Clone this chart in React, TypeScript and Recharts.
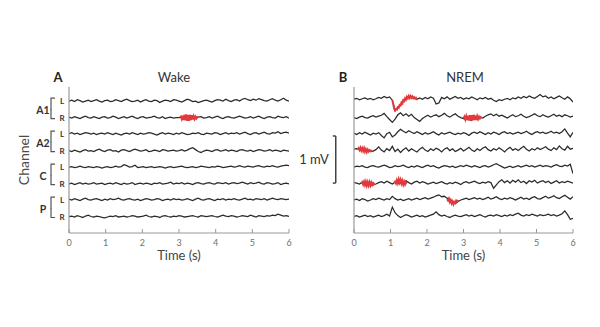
import React from 'react';
import { LineChart, Line, XAxis, YAxis, ReferenceLine } from 'recharts';

// sampled traces, values in units of 0.01 mV, one sample every 0.075 s (0..6 s)
const sampleStep = 0.075;
const spindleStep = 0.025;
const timeTicks = [0, 1, 2, 3, 4, 5, 6];
const channelGroups = ['A1', 'A2', 'C', 'P'];
const channelSides = ['L', 'R'];
// baseline of each channel, mV below the top of the plot
const channelOffsets = [0.3, 0.65, 1.0, 1.35, 1.7, 2.05, 2.4, 2.75];

const wakeA1L = [
  0, 2, -1, 3, 1, -2, 0, 2, -1, 1,
  3, 0, -2, 1, 2, -1, 0, 3, 1, -1,
  2, 4, 1, -1, 0, 2, -2, 1, 3, 0,
  -1, 2, 1, -3, 0, 2, 1, -1, 3, 2,
  0, -2, 1, 4, 2, -1, 0, -3, -1, 1,
  2, 0, -2, 1, 3, 2, 0, 4, 1, -1,
  2, 3, 0, 4, 6, 3, 1, 4, 2, 5,
  3, 1, 0, 3, 5, 2, 0, 3, 6, 2,
  0,
];
const wakeA1R = [
  1, -1, 2, 0, -2, 1, 3, 0, -1, 2,
  0, -2, 1, 2, -1, 0, 3, 1, -2, 0,
  2, -1, 1, 3, 0, -2, 1, 2, -1, 0,
  1, 3, 0, -1, 2, -2, 0, 1, -1, 0,
  0, 1, -1, 0, 1, -1, 0, 1, 2, -1,
  0, 2, -1, 1, 3, 0, -2, 1, 2, 0,
  -1, 1, 3, 1, -1, 0, 2, -1, 1, 3,
  0, -2, 1, 2, 0, -1, 3, 1, 0, 2,
  -1,
];
const wakeA2L = [
  1, 3, 0, 2, -1, 1, 3, 2, 0, 2,
  -1, 1, 2, 0, 3, 1, -1, 2, 0, -2,
  1, 2, 0, 3, 1, -1, 2, 0, 1, 3,
  2, 0, -2, 1, 3, 0, 2, 1, -1, 2,
  0, 3, 1, -1, 0, 2, 1, 3, 0, -1,
  2, 1, 0, 3, 2, -1, 1, 3, 0, 2,
  1, 3, 0, 2, 4, 1, -1, 2, 3, 0,
  2, 4, 1, 0, 3, 2, 5, 1, 3, 4,
  2,
];
const wakeA2R = [
  0, -2, 1, -1, -3, 0, 2, -1, 0, -2,
  1, 3, 0, -2, 1, 2, -1, 0, -3, 1,
  2, 0, -2, 1, 3, 1, -1, 0, 2, -2,
  -1, 1, 0, -2, 2, 1, -1, 0, 1, -1,
  0, 2, -1, 1, 4, 6, 2, -2, -4, -1,
  1, 0, -2, 1, 2, -1, 0, 2, -1, 1,
  0, -2, 1, 2, 0, -1, 1, -2, 0, 2,
  1, -1, 0, 2, -1, 1, 0, -2, 1, 0,
  -1,
];
const wakeCL = [
  0, 1, -1, 0, 2, 0, -1, 1, 0, -1,
  1, 0, -2, 0, 1, -1, 0, 2, 0, 1,
  5, 3, 0, 1, 4, -1, 0, 1, -1, 0,
  1, -1, 0, 1, 0, -2, 0, 1, -1, 0,
  1, 2, 0, -1, 0, 1, -1, 0, 2, 1,
  0, -1, 1, 0, 2, 1, -1, 0, 1, 2,
  0, 1, 3, 1, 0, 2, 1, 0, 2, 3,
  1, 0, 2, 1, 3, 1, 0, 2, 3, 4,
  3,
];
const wakeCR = [
  -1, 1, -2, 0, 2, -1, 1, -1, 0, 2,
  -1, 0, 1, -2, 0, 1, -1, 2, 0, -2,
  1, -1, 0, 2, -2, 0, 1, -1, 1, 0,
  -2, 1, 0, 2, -1, 0, 1, 3, -1, 1,
  0, 2, -1, 1, 0, -2, 1, 2, 0, -1,
  1, 2, 0, -1, 2, 1, 0, 2, -1, 1,
  2, 0, 1, 3, 1, -1, 2, 0, 1, 3,
  0, -1, 2, 1, -1, 0, 2, -2, 0, 1,
  -1,
];
const wakePL = [
  2, 0, 3, 1, -1, 2, 4, 1, 0, 2,
  3, 1, -1, 2, 0, 3, 1, 2, 4, 1,
  0, 2, 3, 1, 0, 2, -1, 1, 3, 2,
  0, 1, 3, 2, -1, 1, 2, 0, 3, 1,
  2, 0, 1, 3, 1, -1, 2, 4, 1, 0,
  2, 3, 1, -1, 2, 1, 3, 0, 2, 1,
  3, 1, 0, 2, 4, 1, 2, 0, 3, 2,
  1, 3, 0, 2, 4, 2, 1, 3, 2, 1,
  2,
];
const wakePR = [
  0, 1, -1, 2, 0, -2, 1, 3, 0, -1,
  1, 0, -2, -3, -1, 1, 0, 2, -1, 0,
  1, -1, 0, 2, 1, -1, 0, 1, 3, 0,
  -1, 1, 0, -2, 1, 2, 0, -1, 1, 0,
  2, 1, -1, 0, 1, 2, 0, -1, 2, 1,
  0, 1, 2, 0, -1, 1, 3, 1, 0, 2,
  1, -1, 0, 2, 1, 0, 3, 1, -1, 2,
  1, 0, 2, 1, 3, 2, 5, 3, 1, 2,
  0,
];

const nremA1L = [
  4, 6, 3, 5, 7, 4, 6, 3, 5, 8,
  6, 10, 7, 9, 2, -20, -13, -9, 2, 3,
  10, 7, 8, 4, 7, 4, 8, 5, 9, 6,
  -6, -4, 8, 5, 9, 4, 7, 10, 6, 8,
  4, 7, 5, 9, 6, 3, 7, 5, 8, 4,
  6, 2, -1, 3, 1, 4, 6, 3, 7, 5,
  9, 6, 10, 7, 11, 8, 6, 10, 14, 9,
  11, 6, 9, 5, 8, 11, 7, 4, 9, 5,
  -2,
];
const nremA1R = [
  0, -2, 1, 3, 0, -1, 2, 4, 1, 3,
  5, 9, 2, -4, -10, -3, 6, 10, 4, 8,
  3, 7, 0, -4, -8, -2, 2, 5, 1, 4,
  6, 2, 5, 9, 4, 1, 5, 8, 3, 0,
  -2, -4, 2, -6, 4, -3, 1, -1, 3, 6,
  8, 4, 7, 3, 5, 2, -1, 3, 6, 2,
  4, 7, 3, 0, 2, 5, 8, 4, 2, 6,
  3, 1, 4, 7, 3, 5, 2, 6, 4, 1,
  3,
];
const nremA2L = [
  2, -1, 3, 0, 4, 1, -2, 2, 0, 3,
  -3, -8, 1, 4, -6, -2, 5, 10, 6, 3,
  7, 4, 1, 5, 2, -1, 3, 0, 2, 5,
  1, -2, 3, 0, 2, 4, 1, -1, 2, 0,
  3, 1, -3, 2, 4, 1, 5, 2, -1, 3,
  0, 4, 2, -1, 3, 5, 1, 3, 0, 2,
  4, 1, 3, 6, 2, -1, 3, 5, 2, 4,
  1, 3, 6, 2, 4, 1, 5, 11, 2, -6,
  4,
];
const nremA2R = [
  3, 4, 3, 5, 2, 1, -2, -1, 2, 8,
  1, -3, 4, 0, 9, -2, 3, -4, 2, 6,
  -1, 4, 0, -3, 3, 7, 1, -2, 4, 0,
  5, 2, -3, 3, 6, 0, 4, -2, 1, 5,
  -1, 3, 7, 1, -2, 4, 0, 5, 8, 2,
  -1, 4, 1, 6, 2, -3, 3, 7, 1, 4,
  0, 5, 9, 3, -1, 4, 1, 6, 2, 5,
  8, 3, 0, 6, 2, 10, 4, 1, 9, 3,
  5,
];
const nremCL = [
  0, 2, 1, 3, 0, -1, 2, 3, 1, 0,
  2, 4, 2, -1, 0, 3, 1, 2, 4, 1,
  -1, 2, 0, 3, 1, -1, 2, 4, 1, 3,
  0, -2, 1, 3, 2, 0, 2, -1, 1, 3,
  1, 4, 2, 0, 3, 1, -1, 2, 3, 0,
  2, 5, 7, 4, 1, -2, 0, 2, -1, 1,
  3, 0, 2, 4, 1, 3, 0, 2, 4, 1,
  3, 2, 0, 3, 5, 2, 1, 4, 2, 6,
  -14,
];
const nremCR = [
  2, 1, -1, 3, 0, -2, 1, -3, -1, 2,
  4, 1, 5, 2, -1, 3, 0, 1, 3, 6,
  2, -1, 3, 5, 1, 4, 2, -1, 1, 3,
  0, 2, 4, 1, -1, 2, 0, 3, 1, -2,
  2, 4, 1, 3, 5, 2, 0, 3, 1, 4,
  2, -10, -3, 4, 8, 2, 6, 1, 7, 3,
  8, 2, 5, 0, 6, 3, 7, 1, 4, 6,
  2, 5, 0, 3, 6, 1, 4, 2, 5, 3,
  1,
];
const nremPL = [
  0, 2, -1, 3, 1, -2, 0, 3, 1, 4,
  2, 0, 3, 1, 8, 3, 0, 2, -1, 1,
  3, 0, 2, 4, 1, 3, 5, 2, 4, 6,
  9, 11, 7, 8, 4, 2, -4, -8, -3, 0,
  2, 4, 1, 3, 5, 2, 4, 1, 3, 6,
  2, 4, 7, 3, 1, 4, 2, 5, 3, 0,
  3, 6, 2, 4, 1, 5, 7, 3, 2, 5,
  8, 4, 6, 9, 5, 3, 7, 10, 6, 2,
  7,
];
const nremPR = [
  0, 2, -1, 1, 3, 0, 2, -1, 1, 3,
  0, 2, 5, 1, 20, 8, 2, -2, 1, 4,
  2, -1, 1, 3, 0, 2, -1, 1, 3, 5,
  10, 4, 1, 3, 0, -2, 1, 3, 1, 0,
  2, 4, 1, 3, 0, 2, 4, 1, -1, 2,
  3, 1, 4, 2, 0, 3, 1, 4, 2, 5,
  7, 3, 1, 4, 2, 5, 3, 1, 4, 2,
  3, 5, 2, 4, 1, 3, 6, 12, 4, -6,
  -4,
];

const wakeTraces = [wakeA1L, wakeA1R, wakeA2L, wakeA2R, wakeCL, wakeCR, wakePL, wakePR];
const nremTraces = [nremA1L, nremA1R, nremA2L, nremA2R, nremCL, nremCR, nremPL, nremPR];

// highlighted spindle events (red), sampled every 0.025 s
const wakeSpindles = [
  { channel: 1, start: 3.025, values: [0, 2, -3, 4, -5, 6, -6, 7, -7, 6, -7, 6, -5, 5, -4, 3, -3, 2, -2, 1, 0] },
];
const nremSpindles = [
  {
    channel: 0, start: 1.05,
    values: [2, -6, -16, -20, -17, -18, -13, -14, -8, -9, -3, -5, 2, 0, 6, 3, 9, 6, 11, 7, 11, 7, 10, 6, 8, 5, 7, 4, 5],
  },
  { channel: 1, start: 3.0, values: [-2, 2, -4, 3, -5, 4, -6, 5, -7, 5, -6, 6, -5, 4, -5, 3, -3, 2, -2, 1, -1] },
  { channel: 3, start: 0.1, values: [2, 5, 1, 6, 0, 5, -1, 5, -2, 3, -3, 2, -2, 1, -1, 0, -1] },
  { channel: 5, start: 0.2, values: [0, 3, -2, 4, -3, 4, -4, 3, -4, 3, -4, 2, -3, 1, -1, 0] },
  { channel: 5, start: 1.1, values: [1, 4, 0, 7, 1, 9, 2, 8, 0, 6, -2, 4, -2, 2, 0] },
  { channel: 6, start: 2.55, values: [2, -1, 3, -4, 0, -7, -3, -9, -4, -6, -1, -3, 0] },
];

const axisColor = '#9a9a9a';
const traceColor = '#2b2b2b';
const spindleColor = '#e03a3e';
const font = 'Lato, "Open Sans", sans-serif';

const toPoints = (values: number[], start: number, step: number, offset: number) =>
  values.map((v, i) => ({ t: +(start + i * step).toFixed(3), v: v / 100 - offset }));

const TimeTick = (props: any) => {
  const { x, y, payload } = props;
  return (
    <g>
      <line x1={x} x2={x} y1={y} y2={y - 4} stroke={axisColor} strokeWidth={1} />
      <text x={x} y={y + 13} textAnchor="middle" fontSize={9} fill="#707070" fontFamily={font}>
        {payload.value}
      </text>
    </g>
  );
};

const ChannelTick = (props: any) => {
  const { x, y, payload } = props;
  let idx = channelOffsets.findIndex((o) => Math.abs(o + Number(payload?.value)) < 1e-3);
  if (idx < 0) idx = props.index ?? 0;
  const isLeft = idx % 2 === 0;
  const bx = x - 18;
  return (
    <g fontFamily={font} fill="#333">
      <text x={x - 7} y={y + 3} textAnchor="middle" fontSize={8} fontWeight="bold">
        {channelSides[idx % 2]}
      </text>
      {isLeft ? (
        <path d={`M${bx + 4},${y - 3} L${bx},${y - 3} L${bx},${y + 8.5}`} stroke="#555" strokeWidth={1.2} fill="none" />
      ) : (
        <path d={`M${bx},${y - 8.5} L${bx},${y + 1} L${bx + 4},${y + 1}`} stroke="#555" strokeWidth={1.2} fill="none" />
      )}
      {isLeft && (
        <text x={x - 26} y={y + 12.5} textAnchor="middle" fontSize={10.5} fontWeight="bold">
          {channelGroups[Math.floor(idx / 2)]}
        </text>
      )}
    </g>
  );
};

function Panel(props: { traces: number[][]; spindles: typeof nremSpindles; left: number; axisWidth: number; marginRight: number; channels?: boolean; scaleBar?: boolean }) {
  const { traces, spindles, left, axisWidth, marginRight, channels, scaleBar } = props;
  return (
    <div style={{ position: 'absolute', left, top: 0 }}>
      <LineChart width={300} height={327} margin={{ top: 87, right: marginRight, bottom: 64, left: 0 }}>
        <XAxis
          dataKey="t"
          type="number"
          domain={[0, 6]}
          ticks={timeTicks}
          interval={0}
          allowDataOverflow
          height={30}
          tickSize={0}
          tickMargin={0}
          tickLine={false}
          tick={<TimeTick />}
          axisLine={{ stroke: axisColor, strokeWidth: 1.2 }}
          label={{ value: 'Time (s)', position: 'insideBottom', offset: 3, fontSize: 13, fill: '#444', fontFamily: font }}
        />
        <YAxis
          type="number"
          domain={[-3.1, 0]}
          allowDataOverflow
          width={axisWidth}
          ticks={channelOffsets.map((o) => -o)}
          interval={0}
          tickSize={0}
          tickMargin={0}
          tickLine={false}
          tick={channels ? <ChannelTick /> : false}
          axisLine={{ stroke: axisColor, strokeWidth: 1.2 }}
        />
        {traces.map((vals, i) => (
          <Line
            key={'trace' + i}
            data={toPoints(vals, 0, sampleStep, channelOffsets[i])}
            dataKey="v"
            type="linear"
            stroke={traceColor}
            strokeWidth={1.25}
            dot={false}
            isAnimationActive={false}
          />
        ))}
        {spindles.map((s, i) => (
          <Line
            key={'spindle' + i}
            data={toPoints(s.values, s.start, spindleStep, channelOffsets[s.channel])}
            dataKey="v"
            type="linear"
            stroke={spindleColor}
            strokeWidth={2}
            dot={false}
            isAnimationActive={false}
          />
        ))}
        {scaleBar && (
          <ReferenceLine
            segment={[{ x: -0.5, y: -1.04 }, { x: -0.5, y: -2.04 }]}
            ifOverflow="visible"
            stroke="#444"
            strokeWidth={1.5}
            label={{ value: '1 mV', position: 'left', offset: 7, fontSize: 13, fill: '#333', fontFamily: font }}
          />
        )}
        {scaleBar && (
          <ReferenceLine segment={[{ x: -0.58, y: -1.04 }, { x: -0.5, y: -1.04 }]} ifOverflow="visible" stroke="#444" strokeWidth={1.5} />
        )}
        {scaleBar && (
          <ReferenceLine segment={[{ x: -0.58, y: -2.04 }, { x: -0.5, y: -2.04 }]} ifOverflow="visible" stroke="#444" strokeWidth={1.5} />
        )}
      </LineChart>
    </div>
  );
}

export default function App() {
  return (
    <div style={{ position: 'absolute', left: 0, top: 0, width: 600, height: 327, background: '#fff', fontFamily: font }}>
      <Panel traces={wakeTraces} spindles={wakeSpindles} left={0} axisWidth={69} marginRight={11} channels />
      <Panel traces={nremTraces} spindles={nremSpindles} left={300} axisWidth={54} marginRight={27} scaleBar />
      <svg width={600} height={327} style={{ position: 'absolute', left: 0, top: 0, pointerEvents: 'none' }} fontFamily={font}>
        <text x={58} y={82} textAnchor="middle" fontSize={13} fontWeight="bold" fill="#222">A</text>
        <text x={174} y={82} textAnchor="middle" fontSize={13} fill="#333">Wake</text>
        <text x={343} y={82} textAnchor="middle" fontSize={13} fontWeight="bold" fill="#222">B</text>
        <text x={465} y={82} textAnchor="middle" fontSize={13} fill="#333">NREM</text>
        <text x={23} y={160} textAnchor="middle" dominantBaseline="central" fontSize={14} fill="#4a4a4a" transform="rotate(-90 23 160)">
          Channel
        </text>
      </svg>
    </div>
  );
}
